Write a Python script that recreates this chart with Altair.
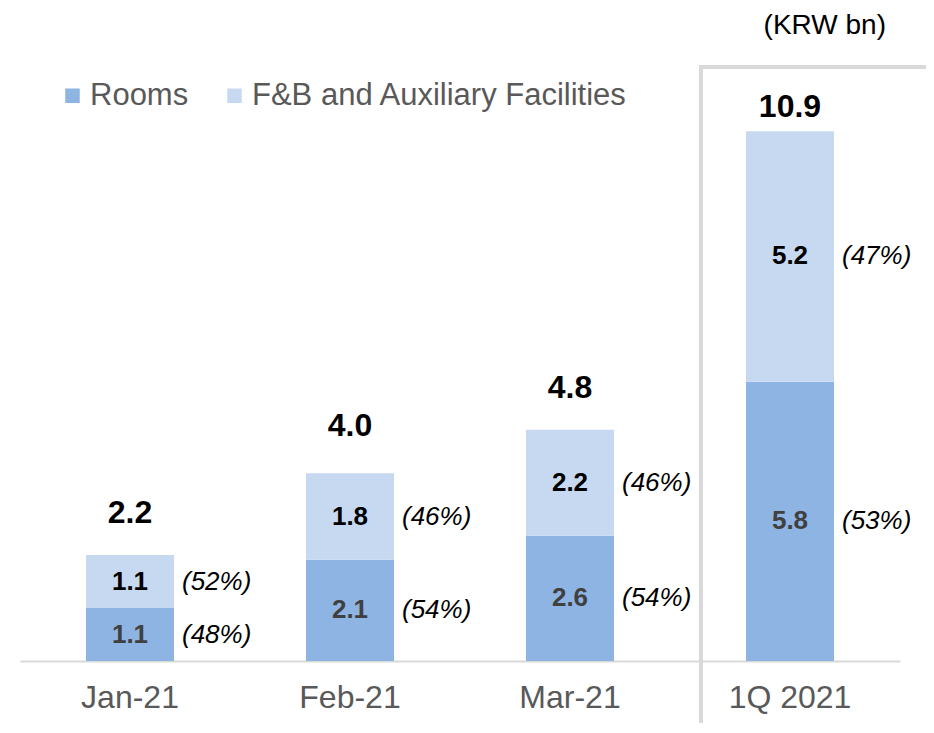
import altair as alt
import pandas as pd

months = ["Jan-21", "Feb-21", "Mar-21", "1Q 2021"]
rooms = [1.1, 2.1, 2.6, 5.8]
fnb = [1.1, 1.8, 2.2, 5.2]
totals = [2.2, 4.0, 4.8, 10.9]
rooms_pct = ["(48%)", "(54%)", "(54%)", "(53%)"]
fnb_pct = ["(52%)", "(46%)", "(46%)", "(47%)"]
series = ["Rooms", "F&B and Auxiliary Facilities"]
colors = ["#8EB4E3", "#C6D9F1"]
unit_note = "(KRW bn)"

FONT = "Liberation Sans"

rows = []
for i, m in enumerate(months):
    r0, r1 = 0.0, rooms[i]
    f0, f1 = rooms[i], rooms[i] + fnb[i]
    rows.append(dict(month=m, segment=series[0], start=r0, end=r1, val=f"{rooms[i]:.1f}",
                     pct=rooms_pct[i], mid=(r0 + r1) / 2))
    rows.append(dict(month=m, segment=series[1], start=f0, end=f1, val=f"{fnb[i]:.1f}",
                     pct=fnb_pct[i], mid=(f0 + f1) / 2))
seg = pd.DataFrame(rows)
tot = pd.DataFrame(dict(month=months, total=totals, label=[f"{t:.1f}" for t in totals],
                        quarter=[m == "1Q 2021" for m in months]))

xenc = alt.X("month:N", sort=months,
             scale=alt.Scale(paddingInner=0.2, paddingOuter=0.1),
             axis=alt.Axis(title=None, labelFontSize=32, labelColor="#595959", labelFont=FONT,
                           labelAngle=0, ticks=False, domainColor="#d9d9d9", domainWidth=2,
                           labelPadding=21, grid=False))
yscale = alt.Scale(domain=[0, 12.5], nice=False)

box = alt.Chart(pd.DataFrame({"a": [1]})).mark_rect(
    fill=None, stroke="#d9d9d9", strokeWidth=4
).encode(x=alt.value(681), x2=alt.value(912), y=alt.value(8), y2=alt.value(720))

bars = alt.Chart(seg).mark_bar(width=88).encode(
    x=xenc,
    y=alt.Y("start:Q", scale=yscale, axis=None),
    y2="end:Q",
    color=alt.Color("segment:N", sort=series,
                    scale=alt.Scale(domain=series, range=colors),
                    legend=alt.Legend(title=None, orient="none", legendX=37, legendY=21,
                                      direction="horizontal", symbolType="square",
                                      symbolSize=210, symbolStrokeWidth=0,
                                      labelFontSize=31, labelFont=FONT, labelColor="#595959",
                                      labelOffset=2, columnPadding=30, labelLimit=0)),
)

seg_labels = alt.Chart(seg).mark_text(fontSize=26, fontWeight="bold", font=FONT,
                                      baseline="middle").encode(
    x=alt.X("month:N", sort=months),
    y=alt.Y("mid:Q", scale=yscale),
    text="val:N",
    color=alt.Color("segment:N", scale=alt.Scale(domain=series, range=["#404040", "#000000"]),
                    legend=None),
)

pct_labels = alt.Chart(seg).mark_text(fontSize=26, fontStyle="italic", font=FONT,
                                      align="left", baseline="middle", dx=52,
                                      color="#000000").encode(
    x=alt.X("month:N", sort=months),
    y=alt.Y("mid:Q", scale=yscale),
    text="pct:N",
)

tot_month = alt.Chart(tot).transform_filter("!datum.quarter").mark_text(
    fontSize=32, fontWeight="bold", font=FONT, baseline="middle", dy=-42, color="#000000"
).encode(x=alt.X("month:N", sort=months), y=alt.Y("total:Q", scale=yscale), text="label:N")

tot_q = alt.Chart(tot).transform_filter("datum.quarter").mark_text(
    fontSize=32, fontWeight="bold", font=FONT, baseline="middle", dy=-29, color="#000000"
).encode(x=alt.X("month:N", sort=months), y=alt.Y("total:Q", scale=yscale), text="label:N")

note = alt.Chart(pd.DataFrame({"t": [unit_note]})).mark_text(
    fontSize=28, font=FONT, align="right", baseline="middle", color="#000000"
).encode(x=alt.value(866), y=alt.value(-33), text="t:N")

chart = alt.layer(box, bars, seg_labels, pct_labels, tot_month, tot_q, note).resolve_scale(
    color="independent"
).properties(
    width=880, height=602,
    autosize=alt.AutoSizeParams(type="none"),
    padding={"left": 12, "top": 51, "right": 26, "bottom": 62},
).configure_view(stroke=None)

chart.save("out.html", embed_options={"renderer": "svg", "actions": False})
